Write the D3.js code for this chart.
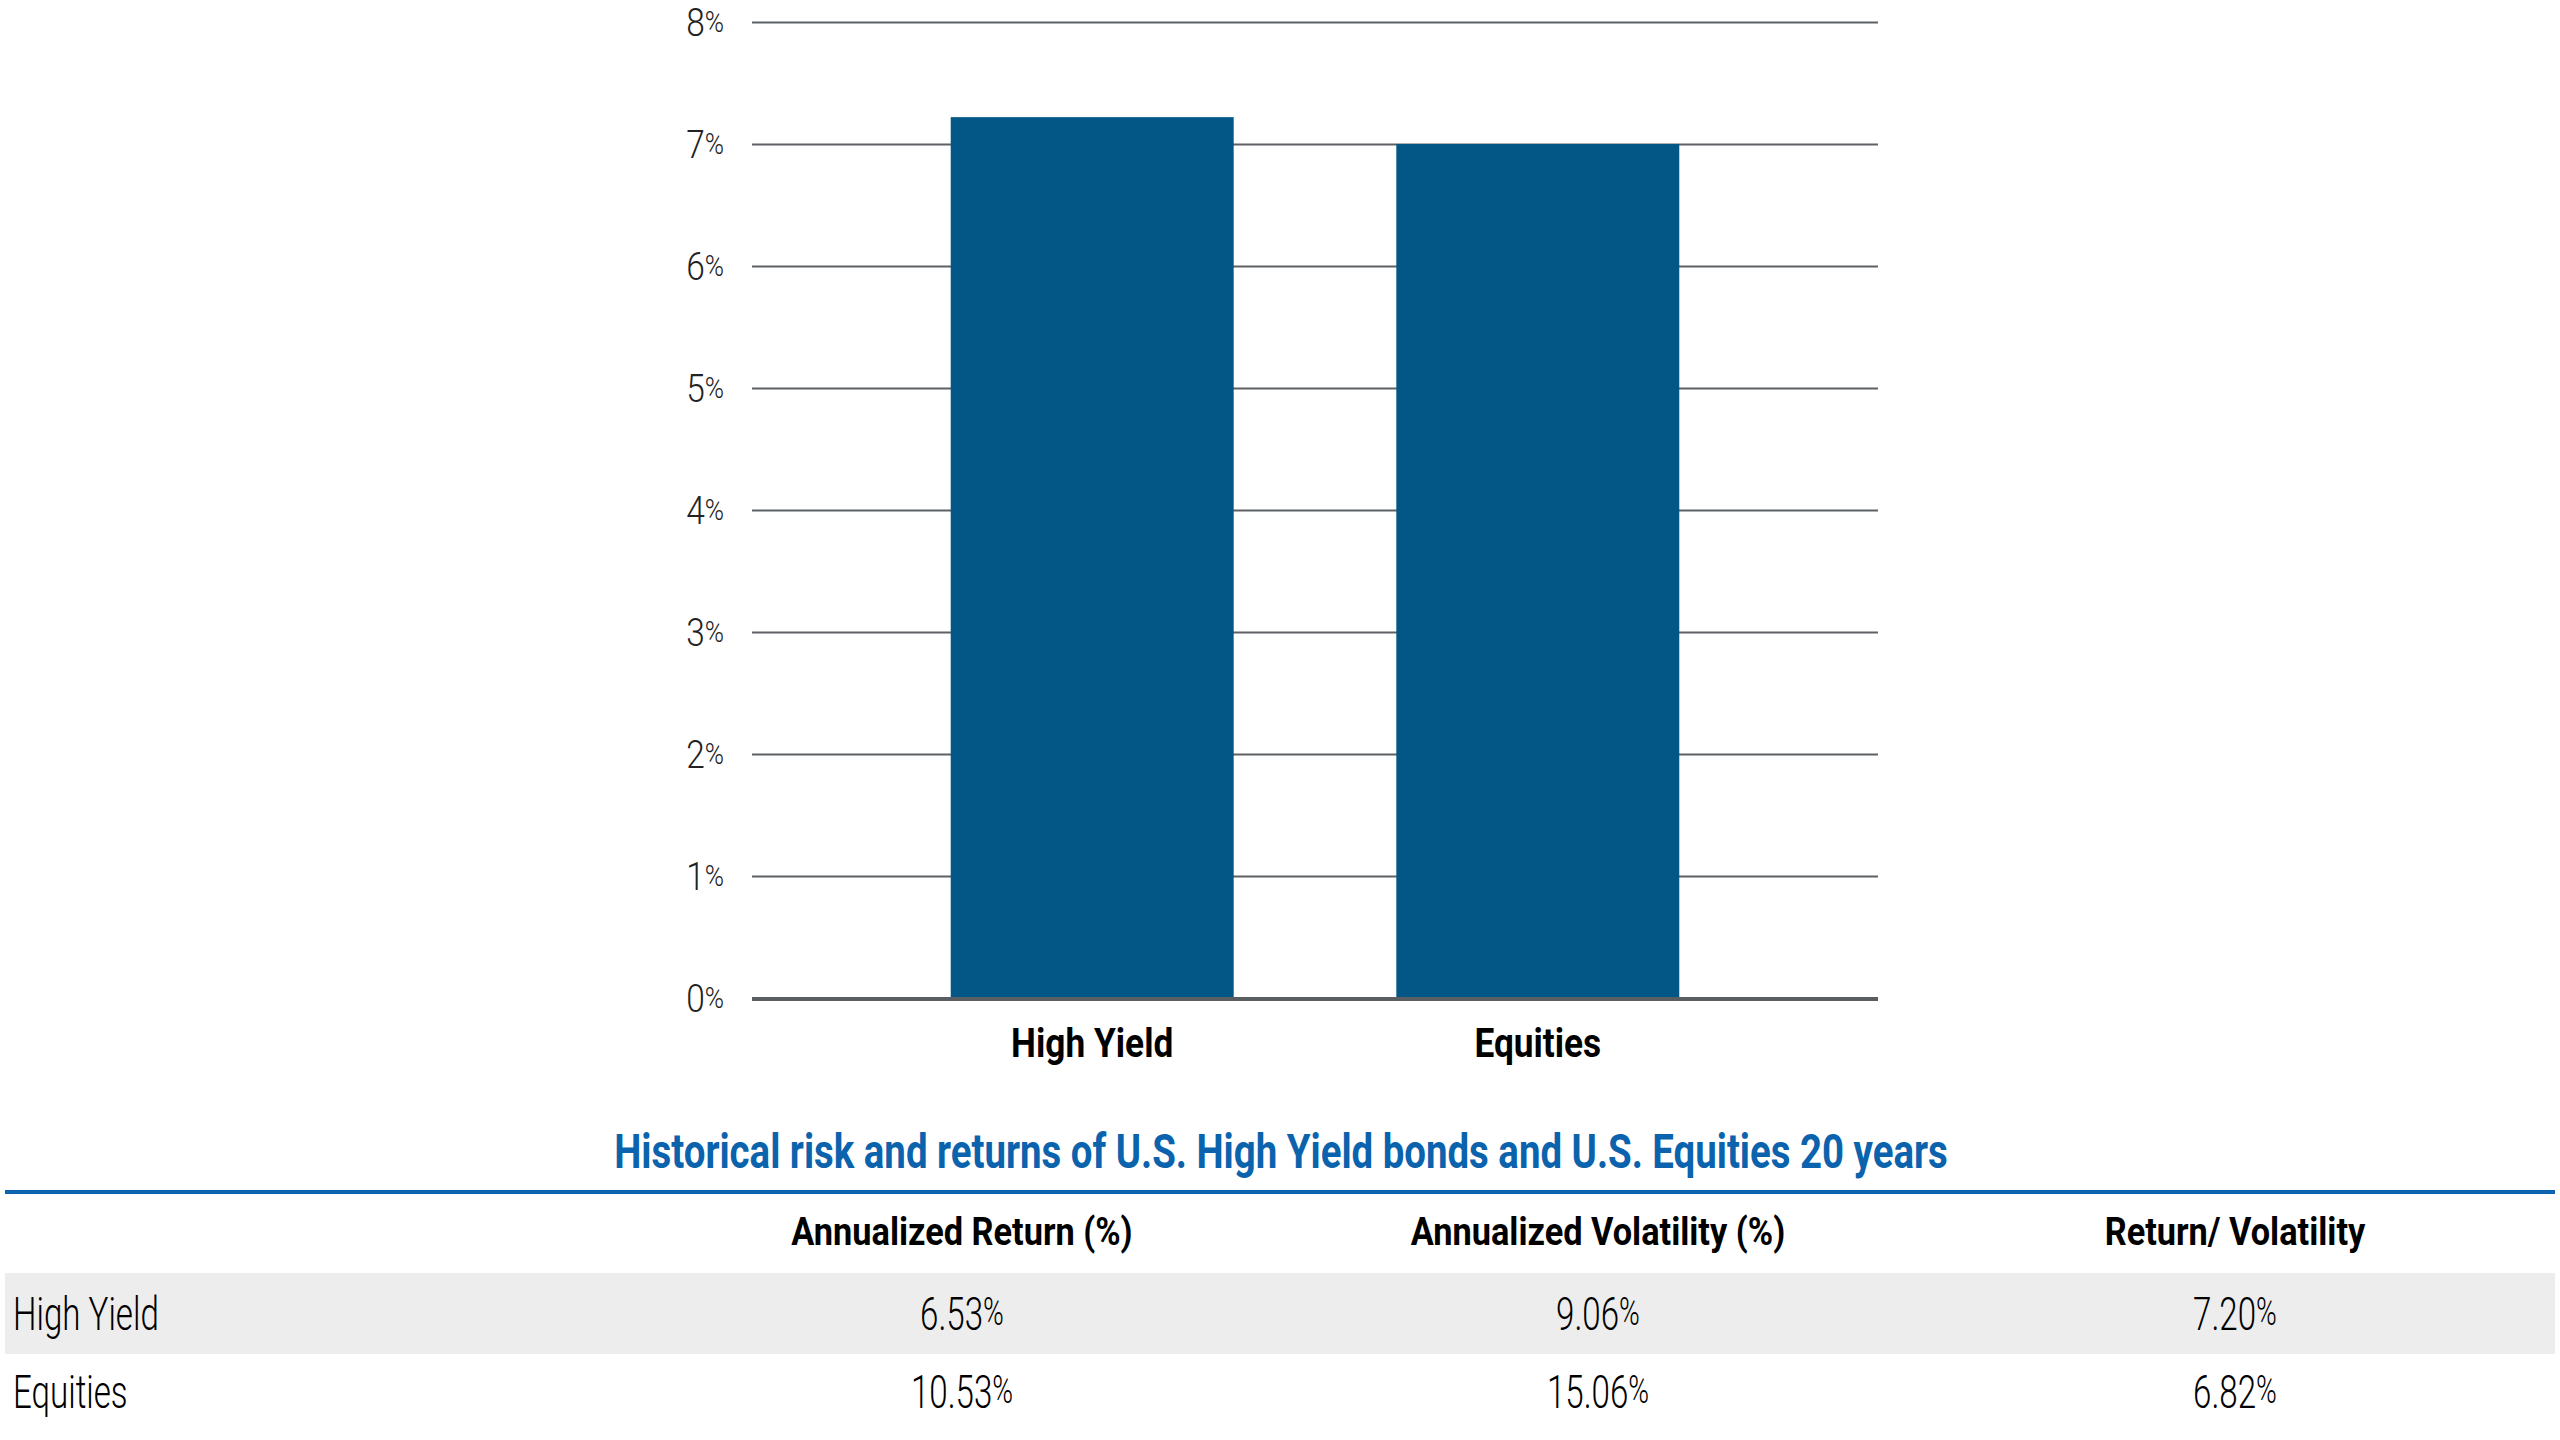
<!DOCTYPE html>
<html>
<head>
<meta charset="utf-8">
<script src="https://cdn.jsdelivr.net/npm/d3@7"></script>
<style>
  html, body { margin: 0; padding: 0; background: #fff; }
  svg { display: block; }
  text { font-family: Roboto, "Liberation Sans", sans-serif; }
</style>
</head>
<body>
<svg id="chart" width="2560" height="1440"></svg>
<script>
// ---------- data ----------
const categories = ["High Yield", "Equities"];
const barValues = [7.22, 7.00];
const yTicks = [0, 1, 2, 3, 4, 5, 6, 7, 8];

const tableTitle = "Historical risk and returns of U.S. High Yield bonds and U.S. Equities 20 years";
const tableColumns = ["", "Annualized Return (%)", "Annualized Volatility (%)", "Return/ Volatility"];
const tableRows = ["High Yield", "Equities"];
const annualizedReturn = ["6.53%", "10.53%"];
const annualizedVolatility = ["9.06%", "15.06%"];
const returnToVolatility = ["7.20%", "6.82%"];

// ---------- layout ----------
const svg = d3.select("#chart");
const plot = { left: 752, right: 1878, top: 22, bottom: 998 };

const x = d3.scaleBand()
  .domain(categories)
  .range([plot.left, plot.right])
  .paddingInner(0.365)
  .paddingOuter(0.446);

const y = d3.scaleLinear()
  .domain([0, 8])
  .range([plot.bottom, plot.top]);

// helper: horizontally condensed text
function ctext(parent, tx, ty, sx, str, opts) {
  const g = parent.append("g").attr("transform", `translate(${tx},${ty}) scale(${sx},1)`);
  const t = g.append("text")
    .attr("x", 0).attr("y", 0)
    .attr("text-anchor", opts.anchor || "start")
    .attr("font-size", opts.size)
    .attr("font-weight", opts.weight || 400)
    .attr("fill", opts.fill || "#000");
  if (opts.smallPct && str.endsWith("%")) {
    t.append("tspan").text(str.slice(0, -1));
    t.append("tspan").attr("font-size", opts.size * opts.smallPct)
      .attr("dy", -opts.size * 0.1).text("%");
  } else {
    t.text(str);
  }
  return t;
}

// gridlines via axis
const yAxis = d3.axisLeft(y)
  .tickValues(yTicks)
  .tickSize(-(plot.right - plot.left))
  .tickFormat("");
const gAxis = svg.append("g")
  .attr("transform", `translate(${plot.left},0)`)
  .call(yAxis);
gAxis.select(".domain").remove();
gAxis.selectAll(".tick line")
  .attr("stroke", "#5d6165")
  .attr("stroke-width", 2);

// tick labels
yTicks.forEach(v => {
  ctext(svg, 724, y(v) + 14, 0.88, v + "%", { anchor: "end", size: 38, weight: 300, fill: "#222", smallPct: 0.78 });
});

// bars
svg.append("g").selectAll("rect")
  .data(categories)
  .join("rect")
  .attr("x", d => x(d))
  .attr("width", x.bandwidth())
  .attr("y", (d, i) => y(barValues[i]))
  .attr("height", (d, i) => y(0) - y(barValues[i]))
  .attr("fill", "#025787");

// baseline
svg.append("line")
  .attr("x1", plot.left).attr("x2", plot.right)
  .attr("y1", y(0) + 1).attr("y2", y(0) + 1)
  .attr("stroke", "#5a5e62").attr("stroke-width", 4);

// category labels
categories.forEach(c => {
  ctext(svg, x(c) + x.bandwidth() / 2, 1057, 0.86, c, { anchor: "middle", size: 41, weight: 700, fill: "#000" });
});

// ---------- table ----------
const tableLeft = 5, tableRight = 2555;
const colCenters = [null, 962, 1598, 2235];

ctext(svg, 1281, 1168, 0.80, tableTitle, { anchor: "middle", size: 48, weight: 700, fill: "#0b63ad" });

svg.append("rect")
  .attr("x", tableLeft).attr("width", tableRight - tableLeft)
  .attr("y", 1190).attr("height", 4)
  .attr("fill", "#0b63ad");

tableColumns.forEach((c, i) => {
  if (i === 0) return;
  ctext(svg, colCenters[i], 1245, 0.88, c, { anchor: "middle", size: 39, weight: 700, fill: "#000" });
});

// striped first row
svg.append("rect")
  .attr("x", tableLeft).attr("width", tableRight - tableLeft)
  .attr("y", 1273).attr("height", 81)
  .attr("fill", "#ededed");

const rowBaselines = [1330, 1408];
const columnsData = [annualizedReturn, annualizedVolatility, returnToVolatility];
tableRows.forEach((r, ri) => {
  ctext(svg, 13, rowBaselines[ri], 0.72, r, { size: 46, weight: 300, fill: "#000" });
  columnsData.forEach((col, ci) => {
    ctext(svg, colCenters[ci + 1], rowBaselines[ri], 0.72, col[ri], { anchor: "middle", size: 46, weight: 300, fill: "#000", smallPct: 0.85 });
  });
});
</script>
</body>
</html>
